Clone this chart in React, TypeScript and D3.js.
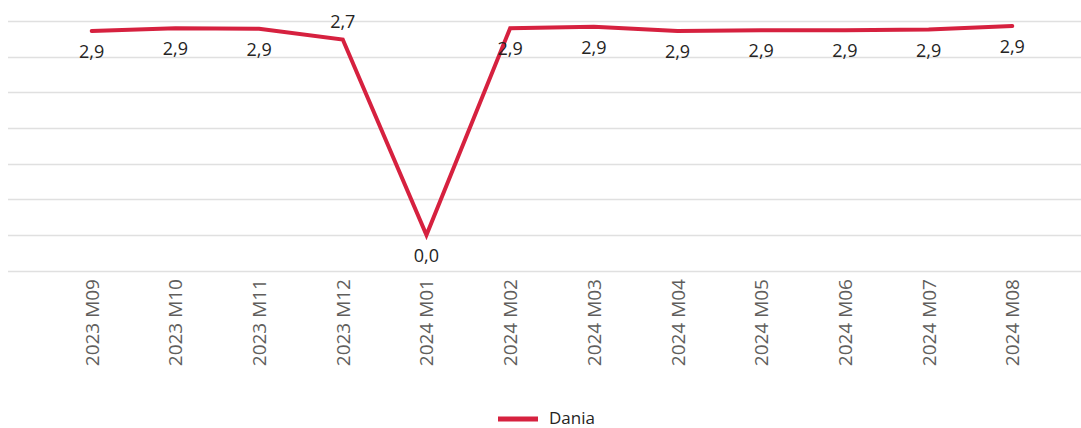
import React from "react";
import * as d3 from "d3";

// Chart data
const categories = [
  "2023 M09", "2023 M10", "2023 M11", "2023 M12", "2024 M01", "2024 M02",
  "2024 M03", "2024 M04", "2024 M05", "2024 M06", "2024 M07", "2024 M08",
];
const daniaValues = [2.86, 2.9, 2.89, 2.74, 0.0, 2.9, 2.92, 2.86, 2.87, 2.87, 2.88, 2.93];
const yTicks = [-0.5, 0, 0.5, 1, 1.5, 2, 2.5, 3];
const seriesName = "Dania";

const width = 1081;
const height = 428;
const lineColor = "#D6213F";
const font = "'Segoe UI', 'Open Sans', sans-serif";

const App = () => {
  // x: point scale, plot area runs past the right edge of the picture
  const x = d3.scalePoint<string>().domain(categories).range([8, 1096]).padding(1);
  const y = d3.scaleLinear().domain([-0.5, 3]).range([270.7, 21]);

  const line = d3
    .line<number>()
    .x((_, i) => x(categories[i]) as number)
    .y((d) => y(d));

  const fmt = (v: number) => v.toFixed(1).replace(".", ",");

  return (
    <svg
      width={width}
      height={height}
      style={{ position: "absolute", left: 0, top: 0, background: "#fff" }}
    >
      {/* Gridlines */}
      <g>
        {yTicks.map((t) => (
          <line
            key={t}
            x1={8}
            x2={1096}
            y1={Math.round(y(t)) + 0.5}
            y2={Math.round(y(t)) + 0.5}
            stroke="#E0E0E0"
            strokeWidth={1.5}
          />
        ))}
      </g>

      {/* X axis labels, rotated */}
      <g>
        {categories.map((c) => (
          <text
            key={c}
            transform={`translate(${x(c)}, 279) rotate(-90)`}
            textAnchor="end"
            dominantBaseline="central"
            fontFamily={font}
            fontSize={19}
            fill="#605E5C"
          >
            {c}
          </text>
        ))}
      </g>

      {/* Series line */}
      <path
        d={line(daniaValues) || ""}
        fill="none"
        stroke={lineColor}
        strokeWidth={4}
        strokeLinecap="round"
        strokeLinejoin="miter"
      />

      {/* Data labels: above when the line drops sharply afterwards */}
      <g>
        {daniaValues.map((v, i) => {
          const next = daniaValues[i + 1];
          const above = next !== undefined && v - next > 1;
          return (
            <text
              key={i}
              x={x(categories[i])}
              y={y(v) + (above ? -19 : 20)}
              textAnchor="middle"
              dominantBaseline="central"
              fontFamily={font}
              fontSize={18}
              fill="#252423"
            >
              {fmt(v)}
            </text>
          );
        })}
      </g>

      {/* Legend */}
      <g>
        <line x1={498} x2={538} y1={419} y2={419} stroke={lineColor} strokeWidth={5} />
        <text
          x={549}
          y={417}
          dominantBaseline="central"
          fontFamily={font}
          fontSize={17}
          fill="#252423"
        >
          {seriesName}
        </text>
      </g>
    </svg>
  );
};

export default App;
